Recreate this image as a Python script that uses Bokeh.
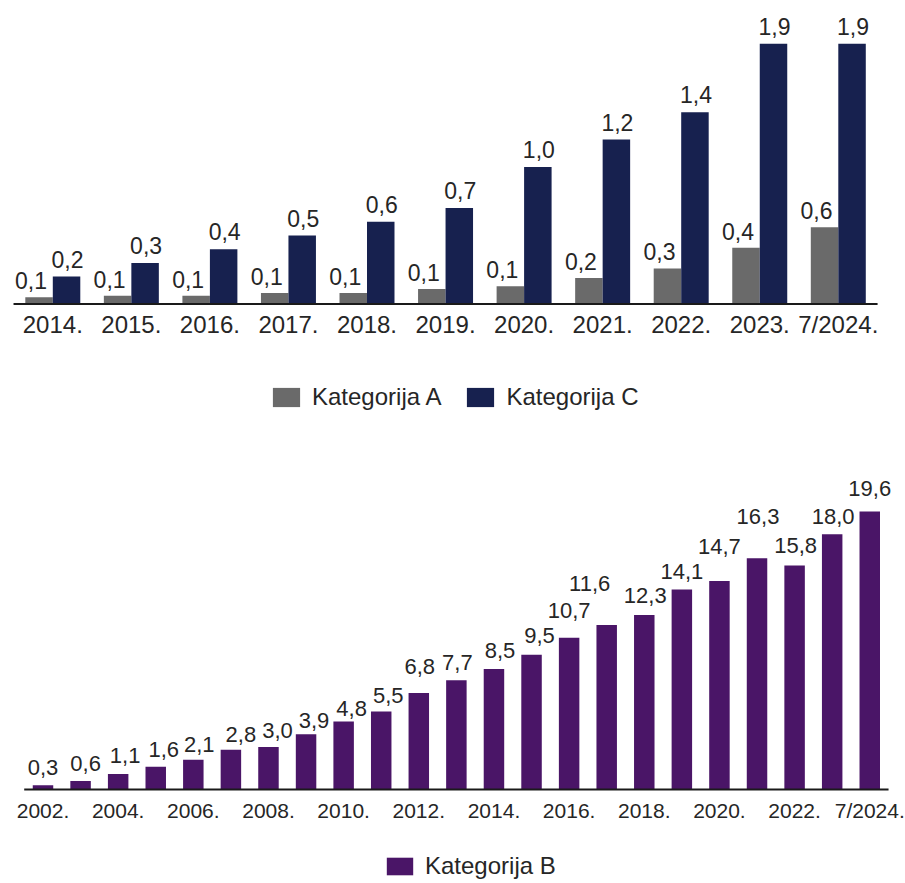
from bokeh.plotting import figure
from bokeh.models import (ColumnDataSource, Range1d, LabelSet, Legend,
                          LegendItem, FixedTicker)
from bokeh.layouts import column
from bokeh.core.properties import value
from bokeh.embed import file_html
from bokeh.resources import INLINE

# ---------------- data ----------------
years_top = ["2014.", "2015.", "2016.", "2017.", "2018.", "2019.", "2020.",
             "2021.", "2022.", "2023.", "7/2024."]
kategorija_a = [0.05, 0.06, 0.06, 0.08, 0.08, 0.11, 0.13, 0.19, 0.26, 0.41, 0.56]
kategorija_c = [0.2, 0.3, 0.4, 0.5, 0.6, 0.7, 1.0, 1.2, 1.4, 1.9, 1.9]

years_bottom = ["2002.", "2003.", "2004.", "2005.", "2006.", "2007.", "2008.",
                "2009.", "2010.", "2011.", "2012.", "2013.", "2014.", "2015.",
                "2016.", "2017.", "2018.", "2019.", "2020.", "2021.", "2022.",
                "2023.", "7/2024."]
kategorija_b = [0.3, 0.6, 1.1, 1.6, 2.1, 2.8, 3.0, 3.9, 4.8, 5.5, 6.8, 7.7, 8.5,
                9.5, 10.7, 11.6, 12.3, 14.1, 14.7, 16.3, 15.8, 18.0, 19.6]

# ---------------- styles ----------------
FONT = "Liberation Sans"
TXT = "#262626"
GRAY = "#6a6a6a"
NAVY = "#17214f"
PURPLE = "#4a1567"
AXIS = "#1a1a1a"
W = 905

# label placement (pixel offsets of the data labels, as in the original layout)
label_dx_b = [0, 5, 7, 8, 6, 10, 9, 8, 8, 7, 1, 1, 6, 8, 0, -17, 1, 0, 0, 1, 1, 1, 0]
label_dy_b = [10, 10, 11, 10, 8, 8, 9, 6, 5, 9, 19, 10, 11, 12, 20, 34, 12, 11, 27, 34, 12, 10, 16]


def fmt(v):
    return f"{v:.1f}".replace(".", ",")


def blank(p):
    p.xaxis.visible = False
    p.yaxis.visible = False
    p.xgrid.visible = False
    p.ygrid.visible = False
    p.outline_line_color = None


def style_axes(p, labels, label_size, every=1, standoff=5):
    p.yaxis.visible = False
    p.xgrid.visible = False
    p.ygrid.visible = False
    p.outline_line_color = None
    ax = p.xaxis[0]
    ticks = list(range(0, len(labels), every))
    ax.ticker = FixedTicker(ticks=ticks, minor_ticks=[])
    ax.major_label_overrides = {i: labels[i] for i in ticks}
    ax.axis_line_color = None
    ax.major_tick_line_color = None
    ax.minor_tick_line_color = None
    ax.major_tick_out = 0
    ax.minor_tick_out = 0
    ax.major_label_standoff = standoff
    ax.major_label_text_font = FONT
    ax.major_label_text_font_size = label_size
    ax.major_label_text_color = TXT


def legend_fig(entries, loc, gw, gh, h):
    """A strip holding a horizontal legend; entries = [(label, colour), ...].
    Each swatch comes from a zero-height stub bar lying outside the strip's view."""
    q = figure(width=W, height=h, frame_width=W, frame_height=h,
               min_border_left=0, min_border_right=0,
               min_border_top=0, min_border_bottom=0,
               x_range=Range1d(0, 1), y_range=Range1d(0, 1),
               output_backend="svg", toolbar_location=None)
    blank(q)
    items = []
    for label, colour in entries:
        r = q.vbar(x=[-5], top=[-5], bottom=[-5], width=0.5,
                   fill_color=colour, line_color=None)
        items.append(LegendItem(label=label, renderers=[r]))
    q.add_layout(Legend(items=items, location=loc, orientation="horizontal",
                        glyph_width=gw, glyph_height=gh, label_height=gh,
                        label_standoff=9, spacing=22, padding=0, margin=0,
                        border_line_color=None, background_fill_alpha=0,
                        label_text_font=FONT, label_text_font_size="24px",
                        label_text_color=TXT))
    return q


# ---------------- top chart ----------------
n1 = len(years_top)
idx1 = list(range(n1))
src1 = ColumnDataSource(dict(
    xa=[i - 0.175 for i in idx1], xc=[i + 0.175 for i in idx1],
    a=kategorija_a, c=kategorija_c,
    a_lbl=[fmt(v) for v in kategorija_a],
    c_lbl=[fmt(v) for v in kategorija_c],
))

cw1 = 78.55      # px per category
pu1 = 137.0      # px per unit
x0_1 = -52.3 / cw1
p1 = figure(x_range=Range1d(x0_1, x0_1 + W / cw1),
            y_range=Range1d(-1.5 / pu1, 303.5 / pu1),
            width=W, frame_width=W, frame_height=305,
            min_border_left=0, min_border_right=0,
            min_border_top=0, min_border_bottom=40,
            output_backend="svg", toolbar_location=None)
style_axes(p1, years_top, "24px")

p1.vbar(x="xa", top="a", width=0.35, source=src1, fill_color=GRAY, line_color=None)
p1.vbar(x="xc", top="c", width=0.35, source=src1, fill_color=NAVY, line_color=None)
p1.segment(x0=[-0.5], y0=[0], x1=[n1 - 0.5], y1=[0], line_color=AXIS, line_width=2)

p1.add_layout(LabelSet(x="xa", y="a", text="a_lbl", source=src1,
                       x_offset=-8, y_offset=8,
                       text_align="center", text_baseline="alphabetic",
                       text_font=value(FONT), text_font_size="23px", text_color=TXT))
p1.add_layout(LabelSet(x="xc", y="c", text="c_lbl", source=src1,
                       x_offset=1, y_offset=9,
                       text_align="center", text_baseline="alphabetic",
                       text_font=value(FONT), text_font_size="23px", text_color=TXT))

leg1 = legend_fig([("Kategorija A", GRAY), ("Kategorija C", NAVY)],
                  (269, 41), 34, 24, 107)

# ---------------- bottom chart ----------------
n2 = len(years_bottom)
idx2 = list(range(n2))
src2 = ColumnDataSource(dict(
    x=idx2, b=kategorija_b,
    b_lbl=[fmt(v) for v in kategorija_b],
    dx=label_dx_b, dy=label_dy_b,
))

cw2 = 37.58
pu2 = 14.18
x0_2 = -42.5 / cw2
p2 = figure(x_range=Range1d(x0_2, x0_2 + W / cw2),
            y_range=Range1d(-2 / pu2, 329 / pu2),
            width=W, frame_width=W, frame_height=331,
            min_border_left=0, min_border_right=0,
            min_border_top=8, min_border_bottom=35,
            output_backend="svg", toolbar_location=None)
style_axes(p2, years_bottom, "21px", every=2, standoff=7)

p2.vbar(x="x", top="b", width=0.545, source=src2, fill_color=PURPLE, line_color=None)
p2.segment(x0=[-0.5], y0=[0], x1=[n2 - 0.5], y1=[0], line_color=AXIS, line_width=2)

p2.add_layout(LabelSet(x="x", y="b", text="b_lbl", source=src2,
                       x_offset="dx", y_offset="dy",
                       text_align="center", text_baseline="alphabetic",
                       text_font=value(FONT), text_font_size="22px", text_color=TXT))

leg2 = legend_fig([("Kategorija B", PURPLE)], (383, 3), 33, 22, 57)

layout = column(p1, leg1, p2, leg2)
open("out.html", "w").write(file_html(layout, INLINE))
